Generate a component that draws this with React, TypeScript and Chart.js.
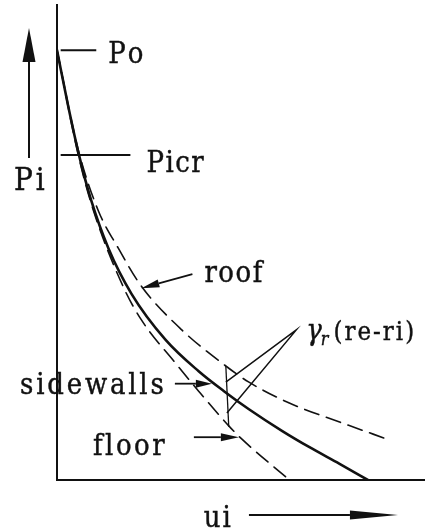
import React, { useEffect, useRef } from "react";
import { Chart, registerables } from "chart.js";

Chart.register(...registerables);

// Axis extents (abstract units: deformation ui, pressure Pi)
const U_MAX = 10;
const P_MAX = 10;

// Reference pressures marked on the Pi axis
const PO = 9.05;
const PICR = 6.84;

// Ground-reaction style curves: pressure against deformation
const sidewallsU = [0, 0.3, 0.6, 0.93, 1.4, 2.03, 2.96, 3.86, 4.55, 5.23, 6.14, 6.88, 7.7, 8.47];
const sidewallsP = [9.05, 7.89, 6.84, 5.89, 4.88, 3.92, 2.95, 2.29, 1.87, 1.49, 1.03, 0.69, 0.34, 0];

const roofU = [0, 0.58, 1.12, 1.67, 2.3, 3.4, 4.6, 5.23, 6.33, 7.7, 9.07];
const roofP = [9.05, 6.95, 5.68, 4.88, 4.08, 3.16, 2.4, 2.06, 1.62, 1.22, 0.84];

const floorU = [0, 0.58, 0.99, 1.81, 2.3, 3.23, 3.86, 4.68, 5.01, 6.33];
const floorP = [9.05, 6.84, 5.68, 4.06, 3.37, 2.46, 1.87, 1.14, 0.88, 0];

// Gap between roof and floor curves, γr(re−ri)
const gapU = [4.6, 4.68];
const gapP = [2.4, 1.12];

// Leader lines from the γr label to the gap marker
const leaderU = [4.6, 6.52, 4.63];
const leaderP = [2.06, 3.16, 1.41];

// Short marks at Po and Picr
const poMarkU = [0.1, 1.07];
const picrMarkU = [0.1, 2.0];

// Points the label arrows point at
const ROOF_TIP = { u: 2.3, p: 4.08 };
const SIDEWALLS_TIP = { u: 4.22, p: 2.07 };
const FLOOR_TIP = { u: 5.01, p: 0.88 };

const INK = "#111111";
const SERIF = "'DejaVu Serif', serif";

const pts = (us: number[], ps: number[]) => us.map((u, i) => ({ x: u, y: ps[i] }));

function drawArrow(
  ctx: CanvasRenderingContext2D,
  x1: number,
  y1: number,
  x2: number,
  y2: number,
  headLen: number,
  headHalf: number,
  lw: number
) {
  const ang = Math.atan2(y2 - y1, x2 - x1);
  const bx = x2 - headLen * Math.cos(ang);
  const by = y2 - headLen * Math.sin(ang);
  ctx.save();
  ctx.strokeStyle = INK;
  ctx.fillStyle = INK;
  ctx.lineWidth = lw;
  ctx.beginPath();
  ctx.moveTo(x1, y1);
  ctx.lineTo(bx, by);
  ctx.stroke();
  ctx.beginPath();
  ctx.moveTo(x2, y2);
  ctx.lineTo(bx + headHalf * Math.sin(ang), by - headHalf * Math.cos(ang));
  ctx.lineTo(bx - headHalf * Math.sin(ang), by + headHalf * Math.cos(ang));
  ctx.closePath();
  ctx.fill();
  ctx.restore();
}

// Spaced-out serif lettering, drawn glyph by glyph; returns the advance used
function drawText(
  ctx: CanvasRenderingContext2D,
  str: string,
  x: number,
  baseline: number,
  size: number,
  spacing: number,
  italic = false
) {
  ctx.save();
  ctx.font = `${italic ? "italic " : ""}${size}px ${SERIF}`;
  ctx.fillStyle = INK;
  ctx.strokeStyle = INK;
  ctx.lineWidth = 0.4;
  ctx.textBaseline = "alphabetic";
  ctx.textAlign = "left";
  let cx = 0;
  for (const ch of Array.from(str)) {
    ctx.save();
    ctx.translate(x + cx, baseline);
    ctx.scale(1, 1.12);
    ctx.fillText(ch, 0, 0);
    ctx.strokeText(ch, 0, 0);
    ctx.restore();
    cx += ctx.measureText(ch).width + spacing;
  }
  ctx.restore();
  return cx - spacing;
}

const annotations = {
  id: "annotations",
  afterDraw(chart: Chart) {
    const { ctx, chartArea } = chart;
    const xs = chart.scales.x;
    const ys = chart.scales.y;
    const X = (u: number) => xs.getPixelForValue(u);
    const Y = (p: number) => ys.getPixelForValue(p);

    // Po / Picr labels
    drawText(ctx, "Po", X(poMarkU[1]) + 12, Y(PO) + 13, 26, 2);
    drawText(ctx, "Picr", X(picrMarkU[1]) + 16, Y(PICR) + 17, 26, 1.5);

    // Pi axis arrow and label
    const ax = chartArea.left - 28;
    drawArrow(ctx, ax, chartArea.top + 153, ax, chartArea.top + 23, 34, 6.5, 2);
    drawText(ctx, "Pi", ax - 15, chartArea.top + 185, 28, 3);

    // ui axis arrow and label
    const uy = chartArea.bottom + 35;
    drawText(ctx, "ui", X(4.0), uy + 12, 26, 2);
    drawArrow(ctx, X(5.23), uy, X(9.29), uy, 48, 4.5, 2);

    // roof label and arrow
    const rx = X(ROOF_TIP.u);
    const ry = Y(ROOF_TIP.p);
    drawText(ctx, "roof", rx + 63, ry - 4, 26, 1.5);
    drawArrow(ctx, rx + 51, ry - 12, rx, ry + 2, 18, 4, 1.8);

    // sidewalls label and arrow
    const sx = X(SIDEWALLS_TIP.u);
    const sy = Y(SIDEWALLS_TIP.p);
    drawText(ctx, "sidewalls", 20, sy + 12, 26, 2.8);
    drawArrow(ctx, sx - 37, sy + 2, sx, sy + 2, 16, 4, 1.8);

    // floor label and arrow
    const fx = X(FLOOR_TIP.u);
    const fy = Y(FLOOR_TIP.p);
    drawText(ctx, "floor", 93, fy + 17, 26, 2.5);
    drawArrow(ctx, fx - 47, fy - 1, fx - 2, fy - 1, 18, 4, 1.8);

    // γr(re−ri) label
    const gx = X(leaderU[1]) + 10;
    const gb = Y(leaderP[1]) + 10;
    const gw = drawText(ctx, "γ", gx, gb, 26, 0, true);
    const sw = drawText(ctx, "r", gx + gw - 1, gb + 5, 16, 0, true);
    drawText(ctx, "(re-ri)", gx + gw + sw + 4, gb, 23, 2);
  },
};

export default function App() {
  const canvasRef = useRef<HTMLCanvasElement | null>(null);

  useEffect(() => {
    if (!canvasRef.current) return;
    const curve = (data: { x: number; y: number }[], width: number, dash: number[] = []) => ({
      data,
      borderColor: INK,
      borderWidth: width,
      borderDash: dash,
      pointRadius: 0,
      fill: false,
      cubicInterpolationMode: "monotone" as const,
      borderCapStyle: "round" as const,
      borderJoinStyle: "round" as const,
    });
    const straight = (data: { x: number; y: number }[], width: number) => ({
      data,
      borderColor: INK,
      borderWidth: width,
      pointRadius: 0,
      fill: false,
      tension: 0,
    });

    const chart = new Chart(canvasRef.current, {
      type: "line",
      data: {
        datasets: [
          { label: "sidewalls", ...curve(pts(sidewallsU, sidewallsP), 2.6) },
          { label: "roof", ...curve(pts(roofU, roofP), 1.6, [15, 8]) },
          { label: "floor", ...curve(pts(floorU, floorP), 1.6, [15, 8]) },
          { label: "gap", ...straight(pts(gapU, gapP), 1.3) },
          { label: "leader", ...straight(pts(leaderU, leaderP), 1.5) },
          { label: "Po", ...straight(pts(poMarkU, [PO, PO]), 2) },
          { label: "Picr", ...straight(pts(picrMarkU, [PICR, PICR]), 2) },
        ] as any,
      },
      options: {
        animation: false,
        responsive: true,
        maintainAspectRatio: false,
        layout: { padding: { left: 57, top: 5, right: 23, bottom: 50 } },
        scales: {
          x: {
            type: "linear",
            min: 0,
            max: U_MAX,
            grid: { display: false, drawTicks: false },
            ticks: { display: false },
            border: { display: true, color: INK, width: 2 },
          },
          y: {
            type: "linear",
            min: 0,
            max: P_MAX,
            grid: { display: false, drawTicks: false },
            ticks: { display: false },
            border: { display: true, color: INK, width: 2 },
          },
        },
        plugins: {
          legend: { display: false },
          tooltip: { enabled: false },
        },
      },
      plugins: [annotations],
    });

    return () => {
      chart.destroy();
    };
  }, []);

  return (
    <div style={{ position: "absolute", left: 0, top: 0, width: 447, height: 530, background: "#fff" }}>
      <canvas ref={canvasRef} />
    </div>
  );
}
